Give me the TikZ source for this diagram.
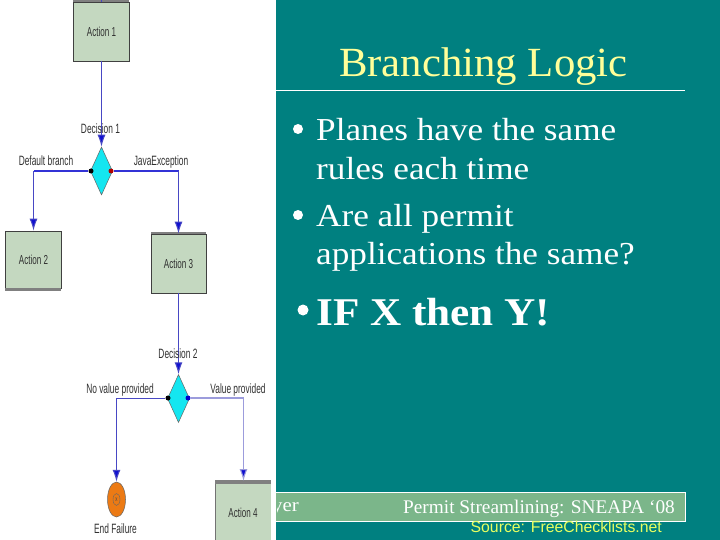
\documentclass[tikz,border=0pt]{standalone}
\usepackage{fontspec}
\usetikzlibrary{shapes.geometric,arrows.meta}
\setmainfont{Liberation Serif}
\newfontfamily\lblfont[FakeStretch=0.62]{Liberation Sans}
\newfontfamily\srcfont{Liberation Sans}
\newfontfamily\bodyfont[FakeStretch=1.10]{Liberation Serif}
\newfontfamily\titlefont[FakeStretch=1.03]{Liberation Serif}
\definecolor{teal1}{HTML}{008080}
\definecolor{barc}{HTML}{7BB68A}
\definecolor{titlec}{HTML}{FFFF99}
\definecolor{srcc}{HTML}{E8FF60}
\definecolor{actc}{HTML}{C4D8C0}
\definecolor{flow}{HTML}{4848C4}
\definecolor{flowlt}{HTML}{9C9CDC}
\definecolor{lblc}{HTML}{303030}
\definecolor{diac}{HTML}{14E6F0}
\definecolor{headc}{HTML}{1010D0}
\definecolor{endc}{HTML}{EC7A14}
\tikzset{
  action/.style={draw=black!75,fill=actc,line width=0.7pt,minimum width=56pt,minimum height=59pt,inner sep=0pt,font=\lblfont\fontsize{13}{14}\selectfont,text=lblc},
  decide/.style={diamond,draw=black!60,fill=diac,line width=0.5pt,minimum width=22pt,minimum height=48pt,inner sep=0pt},
  lbl/.style={font=\lblfont\fontsize{13.5}{14}\selectfont,text=lblc,inner sep=0pt,anchor=base},
  flowln/.style={draw=flow,line width=1pt},
  branch/.style={draw=flow!70!blue,line width=1.6pt},
  arr/.style={flowln,-{Latex[length=12pt,width=8pt,fill=headc]}},
  dotn/.style={circle,inner sep=0pt,minimum size=5pt},
  body/.style={font=\bodyfont\fontsize{32}{32}\selectfont,text=white,inner sep=0pt,anchor=base west},
  bull/.style={circle,fill=white,inner sep=0pt,minimum size=10pt},
  shade/.style={fill=black!50,draw=none},
}
\begin{document}
\begin{tikzpicture}[x=1pt,y=-1pt]
\useasboundingbox (0,0) rectangle (720,540);
\fill[white] (0,0) rectangle (276,540);
\fill[teal1] (276,0) rectangle (720,540);
% slide chrome
\draw[white,line width=0.7pt] (276,90) -- (685,90);
\fill[barc] (276,492) rectangle (685,521);
\draw[white,line width=0.7pt] (276,492) -- (685,492) -- (685,521) -- (276,521);
\begin{scope}
\clip (277,480) rectangle (720,540);
\node[font=\bodyfont\fontsize{19}{19}\selectfont,text=white,inner sep=0pt,anchor=base east] (yer) at (299,511) {yer};
\end{scope}
\node[font=\titlefont\fontsize{41.5}{42}\selectfont,text=titlec,inner sep=0pt,anchor=base west] (title) at (339,77) {Branching Logic};
\node[bull] (b1) at (298,129) {};
\node[body] (t1) at (316,141) {Planes have the same};
\node[body] (t2) at (316,180) {rules each time};
\node[bull] (b2) at (298,215) {};
\node[body] (t3) at (316,226) {Are all permit};
\node[body] (t4) at (316,264) {applications the same?};
\node[bull,minimum size=11pt] (b3) at (303,310) {};
\node[font=\bodyfont\bfseries\fontsize{39.3}{40}\selectfont,text=white,inner sep=0pt,anchor=base west] (t5) at (316,325) {IF X then Y!};
\node[font=\fontsize{19.3}{20}\selectfont,text=white,inner sep=0pt,anchor=base east] (foot) at (675,513) {Permit Streamlining: SNEAPA ‘08};
\node[font=\srcfont\fontsize{15.8}{16}\selectfont,text=srcc,inner sep=0pt,anchor=base east] (src) at (662,532) {Source: FreeChecklists.net};
% flowchart
\fill[shade] (73,0) rectangle (129,2);
\node[action] (a1) at (101.5,31.5) {Action 1};
\coordinate (top) at (101.5,0);
\node[decide] (d1) at (101.5,171) {};
\node[action,minimum height=57pt] (a2) at (33.5,259.5) {Action 2};
\fill[shade] (5,288) rectangle (61,291);
\node[action,minimum width=55pt,minimum height=59pt] (a3) at (178.5,263.5) {Action 3};
\fill[shade] (151,232) rectangle (206,234);
\node[decide] (d2) at (178.5,398.5) {};
\fill[shade] (215,480) rectangle (271,484);
\fill[actc] (215,484) rectangle (271,540);
\fill[black!55] (215,484) rectangle (215.7,540);
\node[font=\lblfont\fontsize{13}{14}\selectfont,text=lblc,inner sep=0pt] (a4) at (243,513) {Action 4};
\coordinate (a4top) at (243.5,481);
\node[ellipse,draw=black!60,fill=endc,line width=0.5pt,minimum width=18pt,minimum height=35pt,inner sep=0pt] (ef) at (116.5,499.5) {};
\node[ellipse,draw=black!60,line width=0.4pt,minimum width=7pt,minimum height=12pt,inner sep=0pt,font=\lblfont\fontsize{7}{7}\selectfont,text=black!70] (efi) at (116.5,499.5) {x};
% elbows
\coordinate (e1) at (33.5,171);
\coordinate (e2) at (178.5,171);
\coordinate (e3) at (116.5,398);
\coordinate (e4) at (243.5,398);
% connectors
\draw[flowln] (top) -- (a1.north);
\draw[arr] (a1.south) -- (d1.north);
\draw[arr] (a3.south) -- (d2.north);
\node[dotn,fill=black] (d1l) at (91,171) {};
\node[dotn,fill=red!70!black] (d1r) at (111,171) {};
\node[dotn,fill=black] (d2l) at (168,398) {};
\node[dotn,fill=blue!80!black] (d2r) at (188,398) {};
\draw[branch] (d1l) -- (e1);
\draw[arr] (e1) -- (a2.north);
\draw[branch] (d1r) -- (e2);
\draw[arr] (e2) -- (a3.north);
\draw[flowln] (d2l) -- (e3);
\draw[arr] (e3) -- (ef.north);
\draw[draw=flowlt,line width=1.4pt] (d2r) -- (e4);
\draw[arr,draw=flowlt] (e4) -- (a4top);
% labels
\node[lbl] (l1) at (100.5,134) {Decision 1};
\node[lbl] (l2) at (46,166) {Default branch};
\node[lbl] (l3) at (161,166) {JavaException};
\node[lbl] (l4) at (178,358) {Decision 2};
\node[lbl] (l5) at (120,393) {No value provided};
\node[lbl] (l6) at (238,393) {Value provided};
\node[lbl] (l7) at (115.5,533) {End Failure};
\end{tikzpicture}
\end{document}
